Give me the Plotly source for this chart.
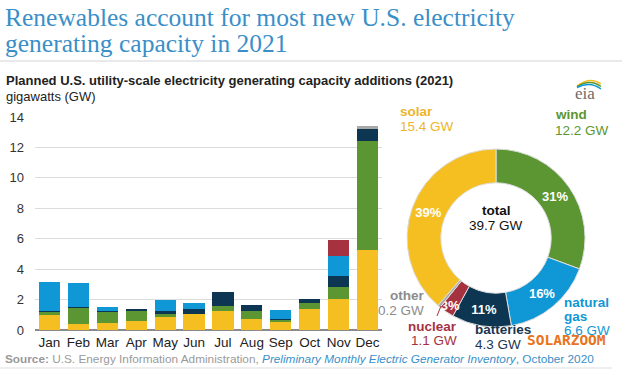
import plotly.graph_objects as go

W, H = 626, 375


def px(x):
    return x / W


def py(y):
    return 1 - y / H


# ---------------- data ----------------
months = ["Jan", "Feb", "Mar", "Apr", "May", "Jun", "Jul", "Aug", "Sep", "Oct", "Nov", "Dec"]
solar = [0.97, 0.40, 0.48, 0.60, 0.88, 1.07, 1.25, 0.72, 0.57, 1.38, 2.02, 5.24]
wind = [0.20, 1.07, 0.70, 0.67, 0.20, 0.00, 0.33, 0.53, 0.13, 0.37, 0.81, 7.17]
batteries = [0.11, 0.05, 0.07, 0.10, 0.20, 0.29, 0.90, 0.37, 0.05, 0.27, 0.74, 0.81]
natural_gas = [1.90, 1.60, 0.25, 0.00, 0.66, 0.41, 0.00, 0.00, 0.57, 0.00, 1.27, 0.00]
nuclear = [0, 0, 0, 0, 0, 0, 0, 0, 0, 0, 1.10, 0]
other = [0, 0, 0, 0, 0, 0, 0, 0, 0, 0, 0, 0.16]
y_ticks = [0, 2, 4, 6, 8, 10, 12, 14]

donut_labels = ["wind", "natural gas", "batteries", "nuclear", "other", "solar"]
donut_values = [12.2, 6.6, 4.3, 1.1, 0.2, 15.4]
donut_pct = ["31%", "16%", "11%", "3%", "", "39%"]
total_text = "39.7 GW"

C_SOLAR = "#F5BF22"
C_WIND = "#5B9632"
C_BATT = "#0C3652"
C_GAS = "#1097D6"
C_NUC = "#A6323F"
C_OTHER = "#A8A8A8"

SANS = "Liberation Sans, Arial, sans-serif"
SERIF = "Liberation Serif, Times New Roman, serif"

fig = go.Figure()

series = [
    ("solar", solar, C_SOLAR),
    ("wind", wind, C_WIND),
    ("batteries", batteries, C_BATT),
    ("natural gas", natural_gas, C_GAS),
    ("nuclear", nuclear, C_NUC),
    ("other", other, C_OTHER),
]
for name, vals, col in series:
    fig.add_bar(x=months, y=vals, name=name, marker=dict(color=col, line=dict(width=0)))

fig.add_pie(
    labels=donut_labels,
    values=donut_values,
    sort=False,
    direction="clockwise",
    rotation=0,
    hole=0.62,
    marker=dict(colors=[C_WIND, C_GAS, C_BATT, C_NUC, C_OTHER, C_SOLAR],
                line=dict(color="#dedede", width=1)),
    text=donut_pct,
    textinfo="text",
    textposition="inside",
    insidetextorientation="horizontal",
    textfont=dict(color="white", size=13, family=SANS, weight="bold"),
    domain=dict(x=[px(407), px(585)], y=[py(327), py(149)]),
    showlegend=False,
)

fig.update_layout(
    width=W, height=H,
    margin=dict(l=0, r=0, t=0, b=0),
    paper_bgcolor="white", plot_bgcolor="white",
    barmode="stack", bargap=0.27,
    showlegend=False,
    uniformtext=dict(minsize=13, mode="show"),
    font=dict(family=SANS, color="#222"),
    xaxis=dict(domain=[px(35), px(382)], showgrid=False, showline=False, ticks="",
               tickfont=dict(size=13.5, color="#222"), ticklabelstandoff=2, automargin=False),
    yaxis=dict(domain=[py(330), py(116.3)], range=[0, 14.05], tickvals=y_ticks,
               gridcolor="#dcdcdc", gridwidth=1, zeroline=True, zerolinecolor="#8a8a8a",
               zerolinewidth=2, tickfont=dict(size=13, color="#333"), ticklabelstandoff=10,
               showline=False, ticks="", automargin=False),
)

ann = []


def text(x, y, s, size=13.5, color="#222", anchor="left", family=SANS):
    ann.append(dict(x=px(x), y=py(y), xref="paper", yref="paper", text=s, showarrow=False,
                    xanchor=anchor, yanchor="middle", font=dict(size=size, color=color, family=family)))


# titles
text(3, 17, "Renewables account for most new U.S. electricity", size=25.5, color="#3A8FC8", family=SERIF)
text(3, 44, "generating capacity in 2021", size=25.5, color="#3A8FC8", family=SERIF)
text(4, 80, "<b>Planned U.S. utility-scale electricity generating capacity additions (2021)</b>", size=13)
text(4, 97, "gigawatts (GW)", size=13)

# donut labels
text(398, 111, "<b>solar</b>", color="#EDB52A")
text(398, 126, "15.4 GW", color="#EDB52A")
text(553, 115, "<b>wind</b>", color=C_WIND)
text(553, 131, "12.2 GW", color=C_WIND)
text(562, 302, "<b>natural</b>", color=C_GAS)
text(562, 316, "<b>gas</b>", color=C_GAS)
text(562, 330, "6.6 GW", color=C_GAS)
text(473, 329, "<b>batteries</b>", color="#1A3550")
text(473, 344, "4.3 GW", color="#1A3550")
text(459, 326, "<b>nuclear</b>", color=C_NUC, anchor="right")
text(459, 340, "1.1 GW", color=C_NUC, anchor="right")
text(426, 295, "<b>other</b>", color="#8c8c8c", anchor="right")
text(426, 310, "0.2 GW", color="#8c8c8c", anchor="right")
text(496, 210, "<b>total</b>", color="#111", anchor="center")
text(496, 225, total_text, color="#111", anchor="center")

# watermark
text(525, 340, "<b>SOLARZOOM</b>", size=14.5, color="#E8731C", family="DejaVu Sans Mono, monospace")

# eia logo text
text(573, 93, "eia", size=17, color="#6b6b6b", family=SERIF)

# source
text(3, 359, "<b>Source:</b> U.S. Energy Information Administration, "
             "<span style='color:#3A8FC8'><i>Preliminary Monthly Electric Generator Inventory</i>, October 2020</span>",
     size=11.8, color="#9a9a9a")

fig.update_layout(annotations=ann)

shapes = [
    dict(type="line", xref="paper", yref="paper", x0=px(0), x1=px(622), y0=py(61), y1=py(61),
         line=dict(color="#d4d4d4", width=1)),
    dict(type="line", xref="paper", yref="paper", x0=px(0), x1=px(612), y0=py(368), y1=py(368),
         line=dict(color="#dddddd", width=1)),
    dict(type="line", xref="paper", yref="paper", x0=px(437), x1=px(441), y0=py(316), y1=py(306),
         line=dict(color=C_NUC, width=1)),
]
# eia logo arcs
for dy, col in [(0, "#F5BF22"), (2.5, "#5B9632"), (5, "#1097D6")]:
    shapes.append(dict(
        type="path", xref="paper", yref="paper",
        path=f"M {px(577)},{py(86 + dy * 0.3)} Q {px(590)},{py(76 + dy)} {px(601)},{py(84 + dy)}",
        line=dict(color=col, width=1.5)))
fig.update_layout(shapes=shapes)

fig.write_html("out.html",
               config={"displayModeBar": False},
               post_script="document.body.style.margin='0';document.body.style.overflow='hidden';")
